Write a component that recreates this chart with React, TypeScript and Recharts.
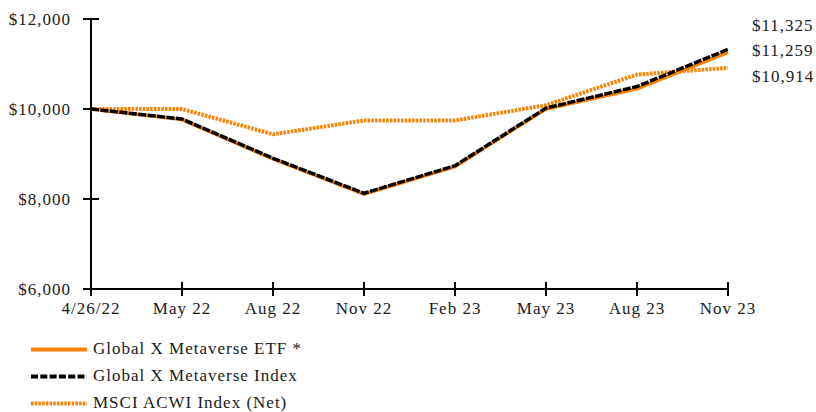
import React from 'react';
import { LineChart, Line, XAxis, YAxis, Legend, LabelList } from 'recharts';

const categories = ['4/26/22', 'May 22', 'Aug 22', 'Nov 22', 'Feb 23', 'May 23', 'Aug 23', 'Nov 23'];
const etfValues = [10000, 9765, 8890, 8110, 8720, 10000, 10450, 11259];
const indexValues = [10000, 9778, 8905, 8127, 8740, 10020, 10500, 11325];
const msciValues = [10000, 10000, 9438, 9745, 9745, 10085, 10765, 10914];
const yTicks = [6000, 8000, 10000, 12000];
const seriesNames = ['Global X Metaverse ETF *', 'Global X Metaverse Index', 'MSCI ACWI Index (Net)'];

const data = categories.map((c, i) => ({
  label: c,
  etf: etfValues[i],
  index: indexValues[i],
  msci: msciValues[i],
}));

const ORANGE = '#FF8200';
const FONT = '"Liberation Serif", "Times New Roman", serif';

const fmt = (v: number) => '$' + v.toLocaleString('en-US');

const YTick = (props: any) => {
  const { x, y, payload } = props;
  return (
    <g>
      <line x1={x + 12} x2={x + 28} y1={y} y2={y} stroke="#000" strokeWidth={2} />
      <text x={x} y={y} dy={6} textAnchor="end" fontFamily={FONT} fontSize={17} letterSpacing={1} fill="#1a1a1a">
        {fmt(payload.value)}
      </text>
    </g>
  );
};

const XTick = (props: any) => {
  const { x, y, payload } = props;
  return (
    <g>
      <line x1={x} x2={x} y1={y - 20} y2={y - 6} stroke="#000" strokeWidth={2} />
      <text x={x} y={y} dy={12} textAnchor="middle" fontFamily={FONT} fontSize={17} letterSpacing={1} fill="#1a1a1a">
        {payload.value}
      </text>
    </g>
  );
};

const makeEndLabel = (dy: number) => (props: any) => {
  const { x, y, value, index } = props;
  if (index !== categories.length - 1) return null;
  return (
    <text x={x + 24} y={y + dy} fontFamily={FONT} fontSize={17} letterSpacing={1} fill="#1a1a1a">
      {fmt(value)}
    </text>
  );
};

const LegendContent = () => {
  const rows = [
    { name: seriesNames[0], stroke: ORANGE, dash: undefined as string | undefined },
    { name: seriesNames[1], stroke: '#000', dash: '7 2.3' },
    { name: seriesNames[2], stroke: ORANGE, dash: '2.5 1.2' },
  ];
  return (
    <svg width={400} height={82} style={{ display: 'block' }}>
      {rows.map((r, i) => {
        const base = 23.5 + i * 27;
        return (
          <g key={r.name}>
            <line x1={31} x2={87} y1={base - 4} y2={base - 4} stroke={r.stroke} strokeWidth={4} strokeDasharray={r.dash} />
            <text x={93} y={base} fontFamily={FONT} fontSize={17} letterSpacing={1} fill="#1a1a1a">
              {r.name}
            </text>
          </g>
        );
      })}
    </svg>
  );
};

export default function App() {
  return (
    <div style={{ position: 'absolute', left: 0, top: 0, width: 816, height: 412, background: '#fff' }}>
      <LineChart width={816} height={412} data={data} margin={{ top: 19, right: 88, left: 0, bottom: 0 }}>
        <XAxis
          dataKey="label"
          height={123}
          tick={<XTick />}
          tickLine={false}
          tickSize={0}
          tickMargin={13}
          axisLine={{ stroke: '#000', strokeWidth: 2 }}
          interval={0}
        />
        <YAxis
          width={91}
          domain={[6000, 12000]}
          ticks={yTicks}
          tick={<YTick />}
          tickLine={false}
          tickSize={0}
          tickMargin={20}
          axisLine={{ stroke: '#000', strokeWidth: 2 }}
          interval={0}
        />
        <Legend
          layout="horizontal"
          verticalAlign="middle"
          align="center"
          content={<LegendContent />}
          wrapperStyle={{ position: 'absolute', top: 330, left: 0, width: 400, height: 82 }}
        />
        <Line
          dataKey="msci"
          name={seriesNames[2]}
          stroke={ORANGE}
          strokeWidth={4}
          strokeDasharray="2.5 1.2"
          dot={false}
          isAnimationActive={false}
        >
          <LabelList dataKey="msci" content={makeEndLabel(14)} />
        </Line>
        <Line
          dataKey="etf"
          name={seriesNames[0]}
          stroke={ORANGE}
          strokeWidth={3.5}
          dot={false}
          isAnimationActive={false}
        >
          <LabelList dataKey="etf" content={makeEndLabel(4)} />
        </Line>
        <Line
          dataKey="index"
          name={seriesNames[1]}
          stroke="#000"
          strokeWidth={3.5}
          strokeDasharray="8 1.5"
          dot={false}
          isAnimationActive={false}
        >
          <LabelList dataKey="index" content={makeEndLabel(-18)} />
        </Line>
      </LineChart>
    </div>
  );
}
